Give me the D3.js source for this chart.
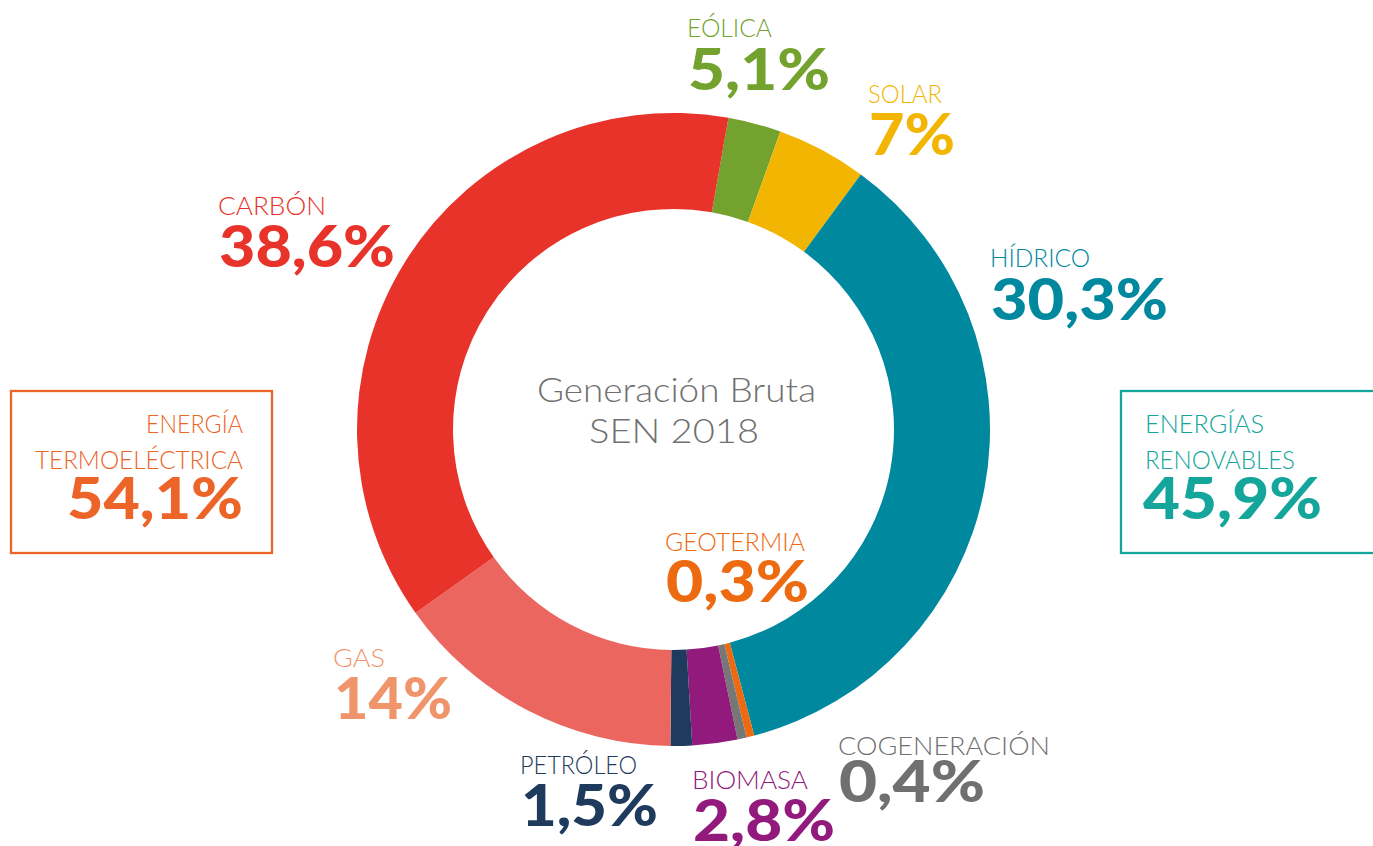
<!DOCTYPE html>
<html>
<head>
<meta charset="utf-8">
<script src="https://cdn.jsdelivr.net/npm/d3@7"></script>
<style>
  html, body { margin: 0; padding: 0; background: #fff; overflow: hidden; }
</style>
</head>
<body>
<script>
// --- data (clockwise from the top) ---
const categories = ["EÓLICA", "SOLAR", "HÍDRICO", "GEOTERMIA", "COGENERACIÓN", "BIOMASA", "PETRÓLEO", "GAS", "CARBÓN"];
const labelPct = ["5,1%", "7%", "30,3%", "0,3%", "0,4%", "2,8%", "1,5%", "14%", "38,6%"];
// share of the ring each slice takes, as drawn in the picture
const arcShare = [2.7, 4.6, 35.8, 0.4, 0.46, 2.3, 1.1, 15.0, 37.6];
const arcColors = ["#74a22f", "#f2b602", "#00889f", "#ee6a10", "#777777", "#921a7c", "#1e3a5c", "#ec6660", "#e8332a"];
const textColors = ["#74a22f", "#f2b602", "#00889f", "#ee6a10", "#707070", "#921a7c", "#1e3a5c", "#f0956b", "#e8332a"];

const groupLines = [["ENERGÍA", "TERMOELÉCTRICA"], ["ENERGÍAS", "RENOVABLES"]];
const groupPct = ["54,1%", "45,9%"];
const groupColors = ["#ec6427", "#14a59b"];

const centerLines = ["Generación Bruta", "SEN 2018"];

// --- layout ---
const width = 1373, height = 846;
const cx = 673.5, cy = 429.5;
const outerR = 316.5, innerR = 220.5;
const start = 10 * Math.PI / 180;

// label placement: x, baseline of name, baseline of value, widths
const labelPos = {
  "EÓLICA":       { x: 687, yName: 37,  yVal: 90,  wName: 85,  wVal: 142 },
  "SOLAR":        { x: 868, yName: 103, yVal: 155, wName: 74,  wVal: 86 },
  "HÍDRICO":      { x: 990, yName: 267, yVal: 320, wName: 100, wVal: 177 },
  "GEOTERMIA":    { x: 665, yName: 551, yVal: 602, wName: 140, wVal: 143 },
  "COGENERACIÓN": { x: 838, yName: 755, yVal: 802, wName: 212, wVal: 146 },
  "BIOMASA":      { x: 692, yName: 789, yVal: 841, wName: 116, wVal: 142 },
  "PETRÓLEO":     { x: 520, yName: 774, yVal: 826, wName: 117, wVal: 137 },
  "GAS":          { x: 333, yName: 667, yVal: 719, wName: 52,  wVal: 118 },
  "CARBÓN":       { x: 218, yName: 215, yVal: 267, wName: 108, wVal: 176 },
};

const NAME_FONT = "Lato, 'Open Sans', sans-serif";

const svg = d3.select("body")
  .append("svg")
  .attr("width", width)
  .attr("height", height)
  .attr("viewBox", `0 0 ${width} ${height}`)
  .style("display", "block");

svg.append("rect").attr("width", width).attr("height", height).attr("fill", "#fff");

// donut
const pie = d3.pie()
  .sort(null)
  .value((d) => d)
  .startAngle(start)
  .endAngle(start + 2 * Math.PI);

const arc = d3.arc().innerRadius(innerR).outerRadius(outerR);

svg.append("g")
  .attr("transform", `translate(${cx},${cy})`)
  .selectAll("path")
  .data(pie(arcShare))
  .join("path")
  .attr("d", arc)
  .attr("fill", (d, i) => arcColors[i]);

// center title
svg.append("g")
  .selectAll("text")
  .data(centerLines)
  .join("text")
  .attr("x", (d, i) => (i === 0 ? 676.5 : 674))
  .attr("y", (d, i) => (i === 0 ? 402 : 443))
  .attr("text-anchor", "middle")
  .attr("font-family", NAME_FONT)
  .attr("font-weight", 300)
  .attr("font-size", 34)
  .attr("fill", "#707070")
  .attr("textLength", (d, i) => (i === 0 ? 279 : 170))
  .attr("lengthAdjust", "spacingAndGlyphs")
  .text((d) => d);

// slice labels
const lab = svg.append("g")
  .selectAll("g")
  .data(categories)
  .join("g");

lab.append("text")
  .attr("x", (d) => labelPos[d].x)
  .attr("y", (d) => labelPos[d].yName)
  .attr("font-family", NAME_FONT)
  .attr("font-weight", 300)
  .attr("font-size", 25)
  .attr("fill", (d, i) => textColors[i])
  .attr("textLength", (d) => labelPos[d].wName)
  .attr("lengthAdjust", "spacingAndGlyphs")
  .text((d) => d);

lab.append("text")
  .attr("x", (d) => labelPos[d].x + 1)
  .attr("y", (d) => labelPos[d].yVal)
  .attr("font-family", NAME_FONT)
  .attr("font-weight", 900)
  .attr("font-size", 57)
  .attr("fill", (d, i) => textColors[i])
  .attr("textLength", (d) => labelPos[d].wVal)
  .attr("lengthAdjust", "spacingAndGlyphs")
  .text((d, i) => labelPct[i]);

// group boxes (left: thermo, right: renewables)
const boxes = [
  { x: 11, w: 261, anchor: "end", tx: 243, wLines: [97, 208], wVal: 176 },
  { x: 1121, w: 270, anchor: "start", tx: 1145, wLines: [119, 150], wVal: 179 },
];

boxes.forEach((b, gi) => {
  const g = svg.append("g");
  g.append("rect")
    .attr("x", b.x)
    .attr("y", 391)
    .attr("width", b.w)
    .attr("height", 162)
    .attr("fill", "none")
    .attr("stroke", groupColors[gi])
    .attr("stroke-width", 2.3);

  g.selectAll("text.line")
    .data(groupLines[gi])
    .join("text")
    .attr("class", "line")
    .attr("x", b.tx)
    .attr("y", (d, i) => 433 + i * 36)
    .attr("text-anchor", b.anchor)
    .attr("font-family", NAME_FONT)
    .attr("font-weight", 300)
    .attr("font-size", 25)
    .attr("fill", groupColors[gi])
    .attr("textLength", (d, i) => b.wLines[i])
    .attr("lengthAdjust", "spacingAndGlyphs")
    .text((d) => d);

  g.append("text")
    .attr("x", b.anchor === "end" ? b.tx : b.tx - 2)
    .attr("y", 519)
    .attr("text-anchor", b.anchor)
    .attr("font-family", NAME_FONT)
    .attr("font-weight", 900)
    .attr("font-size", 57)
    .attr("fill", groupColors[gi])
    .attr("textLength", b.wVal)
    .attr("lengthAdjust", "spacingAndGlyphs")
    .text(groupPct[gi]);
});
</script>
</body>
</html>
